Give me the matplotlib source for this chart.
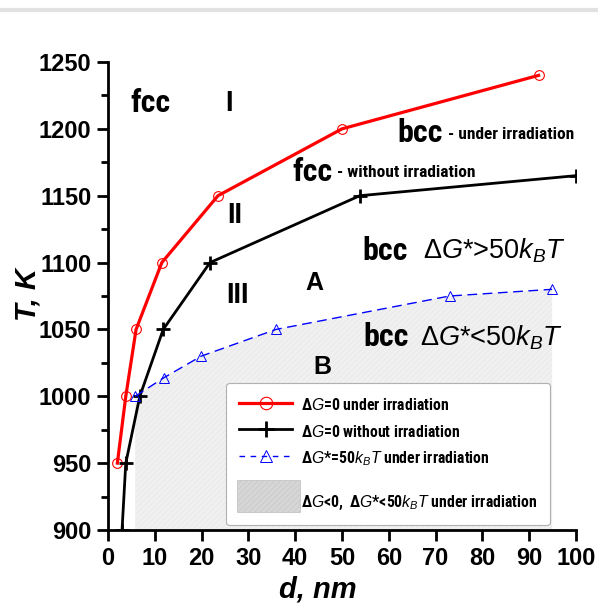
import matplotlib
matplotlib.use("Agg")
import matplotlib.pyplot as plt
from matplotlib import font_manager
from matplotlib.lines import Line2D
from matplotlib.patches import Patch, Rectangle
from matplotlib.legend_handler import HandlerPatch

names = {f.name for f in font_manager.fontManager.ttflist}
NARROW = 'Liberation Sans Narrow'
for cand in ['Liberation Sans Narrow', 'Roboto Condensed', 'Archivo Narrow', 'PT Sans Narrow']:
    if cand in names:
        NARROW = cand
        break
SANS = 'Liberation Sans'

plt.rcParams['font.family'] = [SANS, 'DejaVu Sans']
plt.rcParams['mathtext.fontset'] = 'custom'
plt.rcParams['mathtext.rm'] = SANS
plt.rcParams['mathtext.it'] = SANS + ':italic'
plt.rcParams['mathtext.bf'] = SANS + ':bold'
plt.rcParams['hatch.linewidth'] = 0.3

# Data
d_irr = [2, 3.8, 6, 11.5, 23.5, 50, 92]
T_irr = [950, 1000, 1050, 1100, 1150, 1200, 1240]
d_noirr = [3, 3.8, 6.8, 11.8, 21.8, 53.8, 100]
T_noirr = [900, 950, 1000, 1050, 1100, 1150, 1165]
d_star = [5.8, 12, 19.9, 35.9, 73, 94.9]
T_star = [1000, 1014, 1030, 1050, 1075, 1080]

x_ticks = [0, 10, 20, 30, 40, 50, 60, 70, 80, 90, 100]
y_ticks = [900, 950, 1000, 1050, 1100, 1150, 1200, 1250]

fig = plt.figure(figsize=(5.98, 6.10), dpi=100)
ax = fig.add_axes([108/598, 1-530/610, 468/598, 468/610])

ax.fill_between(d_star, T_star, 900, facecolor='#f0f0f0', edgecolor='#e2e2e2',
                hatch='//////', linewidth=0, zorder=1)

ax.plot(d_irr, T_irr, color='red', lw=2.3, marker='o', ms=7, mfc='none',
        mec='red', mew=0.8, zorder=3)
ax.plot(d_noirr, T_noirr, color='black', lw=2.0, marker='+', ms=10, mew=2.0,
        zorder=3)
ax.plot(d_star, T_star, color='blue', lw=1.0, ls=(0, (7, 4)), marker='^', ms=7,
        mfc='none', mec='blue', mew=0.7, zorder=3)

ax.set_xlim(0, 100)
ax.set_ylim(900, 1250)
ax.set_xticks(x_ticks)
ax.set_yticks(y_ticks)
ax.set_yticks([925, 975, 1025, 1075, 1125, 1175, 1225], minor=True)
for s in ['top', 'right']:
    ax.spines[s].set_visible(False)
for s in ['left', 'bottom']:
    ax.spines[s].set_linewidth(2.0)
ax.tick_params(axis='both', which='major', direction='out', length=8, width=2,
               labelsize=17, pad=4)
ax.tick_params(axis='y', which='minor', direction='out', length=5, width=2)
for lab in ax.get_xticklabels() + ax.get_yticklabels():
    lab.set_fontweight('bold')

fig.text(28/598, 1-295/610, 'T, K', rotation=90, ha='center', va='center',
         fontsize=21, fontweight='bold', fontstyle='italic')
fig.text(318/598, 1-590/610, 'd, nm', ha='center', va='center',
         fontsize=21, fontweight='bold', fontstyle='italic')

big = dict(family=NARROW, fontweight='bold', fontsize=23, va='center')
ax.text(9.0, 1219, 'fcc', ha='center', **big)
ax.text(61.8, 1197, 'bcc', ha='left', **big)
ax.text(39.3, 1167.5, 'fcc', ha='left', **big)
ax.text(54.3, 1109, 'bcc', ha='left', **big)
ax.text(54.5, 1044, 'bcc', ha='left', **big)

small = dict(family=NARROW, fontweight='bold', fontsize=12.5, va='center', ha='left')
ax.text(72.6, 1196, '- under irradiation', **small)
ax.text(48.9, 1167, '- without irradiation', **small)

rom = dict(family=NARROW, fontweight='bold', fontsize=20, va='center', ha='center')
ax.text(25.9, 1219, 'I', **rom)
ax.text(27.1, 1135.5, 'II', **rom)
ax.text(27.6, 1075.5, 'III', **rom)

ax.text(44.2, 1084.5, 'A', ha='center', va='center', fontsize=18, fontweight='bold')
ax.text(45.7, 1022, 'B', ha='center', va='center', fontsize=18, fontweight='bold')

ax.text(67.3, 1109, r'Δ$G$*>50$k_BT$', ha='left', va='center', fontsize=19.5)
ax.text(66.7, 1044, r'Δ$G$*<50$k_BT$', ha='left', va='center', fontsize=19.5)


def big_patch(legend, orig_handle, xdescent, ydescent, width, height, fontsize):
    return Rectangle((-xdescent - 0.04 * width, -ydescent - 0.45 * height),
                     width * 1.19, height * 1.8)


handles = [
    Line2D([], [], color='red', lw=2.3, marker='o', ms=9, mfc='none', mec='red', mew=0.8),
    Line2D([], [], color='black', lw=2.0, marker='+', ms=11, mew=2.0),
    Line2D([], [], color='blue', lw=1.0, ls=(0, (4, 4)), marker='^', ms=8, mfc='none',
           mec='blue', mew=0.7),
    Patch(facecolor='#d6d6d6', edgecolor='#bdbdbd', hatch='//////', lw=0.5),
]
labels = [
    r'Δ$G$=0 under irradiation',
    r'Δ$G$=0 without irradiation',
    r'Δ$G$*=50$k_BT$ under irradiation',
    '\n' + r'Δ$G$<0,  Δ$G$*<50$k_BT$ under irradiation',
]
leg = ax.legend(handles, labels, loc='lower right', bbox_to_anchor=(0.944, 0.011),
                prop=dict(family=NARROW, weight='bold', size=11.3),
                frameon=True, fancybox=True, edgecolor='#b0b0b0', framealpha=1,
                handlelength=3.4, handleheight=1.4, labelspacing=0.55,
                borderpad=0.8, handletextpad=0.55, borderaxespad=0,
                handler_map={Patch: HandlerPatch(patch_func=big_patch)})
leg.get_frame().set_linewidth(0.8)
leg.set_zorder(5)

fig.add_artist(Line2D([0, 1], [1-10/610, 1-10/610], color='#e2e2e2', lw=3))

fig.savefig('out.png', dpi=100)
